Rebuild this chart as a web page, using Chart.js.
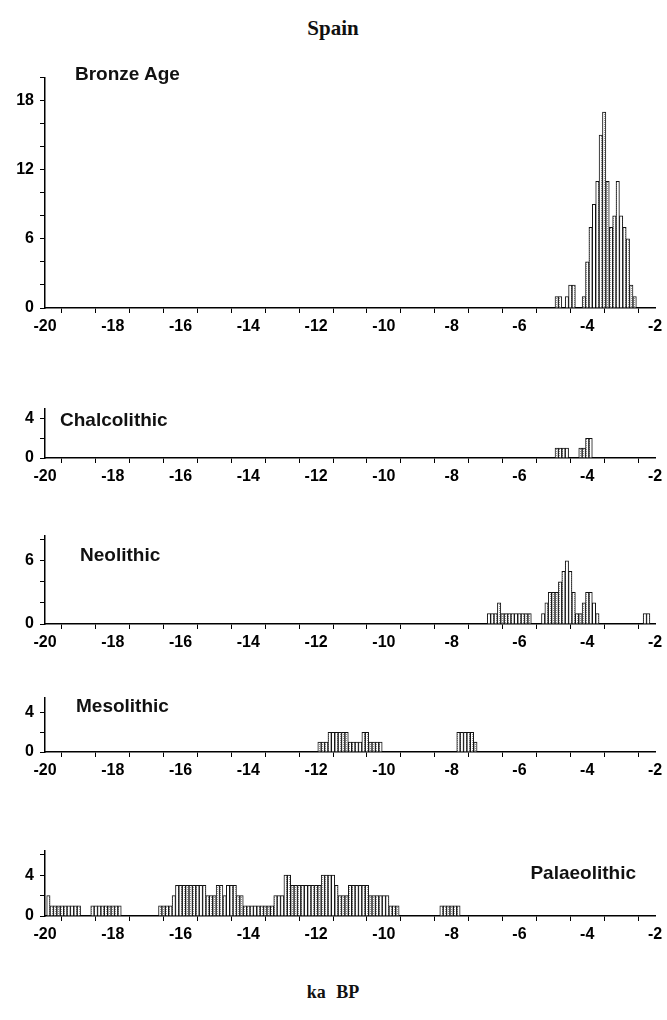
<!DOCTYPE html>
<html>
<head>
<meta charset="utf-8">
<script src="https://cdn.jsdelivr.net/npm/chart.js@4.4.1/dist/chart.umd.min.js"></script>
<style>
  body { margin: 0; background: #fff; width: 667px; height: 1020px; position: relative; overflow: hidden; }
  canvas { position: absolute; left: 0; }
  .lbl { position: absolute; font-family: "Liberation Sans", Arial, sans-serif; font-weight: bold; font-size: 19px; line-height: 1; color: #111; transform: translateY(-50%); white-space: nowrap; }
  .lbl.right { transform: translate(-100%, -50%); }
  .serif { position: absolute; font-family: "Liberation Serif", "Times New Roman", serif; font-weight: bold; color: #111; transform: translate(-50%, -50%); white-space: nowrap; }
</style>
</head>
<body>
<div class="serif" style="left:333px; top:28px; font-size:21px;">Spain</div>
<div class="serif" style="left:333px; top:992px; font-size:18px; word-spacing:6px;">ka BP</div>

<script>
// histogram bins (ka BP, bin centre) and counts
const xTickLabels = [-20, -18, -16, -14, -12, -10, -8, -6, -4, -2];

const bronzeAgeX = [-4.9, -4.8, -4.6, -4.5, -4.4, -4.1, -4.0, -3.9, -3.8, -3.7, -3.6, -3.5, -3.4, -3.3, -3.2, -3.1, -3.0, -2.9, -2.8, -2.7, -2.6];
const bronzeAgeN = [1, 1, 1, 2, 2, 1, 4, 7, 9, 11, 15, 17, 11, 7, 8, 11, 8, 7, 6, 2, 1];
const bronzeAgeYLabels = [0, 6, 12, 18];

const chalcoX = [-4.9, -4.8, -4.7, -4.6, -4.2, -4.1, -4.0, -3.9];
const chalcoN = [1, 1, 1, 1, 1, 1, 2, 2];
const chalcoYLabels = [0, 4];

const neoX = [-6.9, -6.8, -6.7, -6.6, -6.5, -6.4, -6.3, -6.2, -6.1, -6.0, -5.9, -5.8, -5.7,
              -5.3, -5.2, -5.1, -5.0, -4.9, -4.8, -4.7, -4.6, -4.5, -4.4, -4.3, -4.2, -4.1, -4.0, -3.9, -3.8, -3.7,
              -2.3, -2.2];
const neoN = [1, 1, 1, 2, 1, 1, 1, 1, 1, 1, 1, 1, 1,
              1, 2, 3, 3, 3, 4, 5, 6, 5, 3, 1, 1, 2, 3, 3, 2, 1,
              1, 1];
const neoYLabels = [0, 6];

const mesoX = [-11.9, -11.8, -11.7, -11.6, -11.5, -11.4, -11.3, -11.2, -11.1, -11.0, -10.9, -10.8, -10.7, -10.6, -10.5, -10.4, -10.3, -10.2, -10.1,
               -7.8, -7.7, -7.6, -7.5, -7.4, -7.3];
const mesoN = [1, 1, 1, 2, 2, 2, 2, 2, 2, 1, 1, 1, 1, 2, 2, 1, 1, 1, 1,
               2, 2, 2, 2, 2, 1];
const mesoYLabels = [0, 4];

const palaeoX = [-19.9, -19.8, -19.7, -19.6, -19.5, -19.4, -19.3, -19.2, -19.1, -19.0,
                 -18.6, -18.5, -18.4, -18.3, -18.2, -18.1, -18.0, -17.9, -17.8,
                 -16.6, -16.5, -16.4, -16.3, -16.2, -16.1, -16.0, -15.9, -15.8, -15.7, -15.6, -15.5, -15.4, -15.3,
                 -15.2, -15.1, -15.0, -14.9, -14.8, -14.7, -14.6, -14.5, -14.4, -14.3, -14.2,
                 -14.1, -14.0, -13.9, -13.8, -13.7, -13.6, -13.5, -13.4, -13.3,
                 -13.2, -13.1, -13.0, -12.9, -12.8, -12.7, -12.6, -12.5, -12.4, -12.3, -12.2, -12.1, -12.0, -11.9,
                 -11.8, -11.7, -11.6, -11.5, -11.4, -11.3, -11.2, -11.1, -11.0, -10.9, -10.8, -10.7, -10.6, -10.5,
                 -10.4, -10.3, -10.2, -10.1, -10.0, -9.9, -9.8, -9.7, -9.6,
                 -8.3, -8.2, -8.1, -8.0, -7.9, -7.8];
const palaeoN = [2, 1, 1, 1, 1, 1, 1, 1, 1, 1,
                 1, 1, 1, 1, 1, 1, 1, 1, 1,
                 1, 1, 1, 1, 2, 3, 3, 3, 3, 3, 3, 3, 3, 3,
                 2, 2, 2, 3, 3, 2, 3, 3, 3, 2, 2,
                 1, 1, 1, 1, 1, 1, 1, 1, 1,
                 2, 2, 2, 4, 4, 3, 3, 3, 3, 3, 3, 3, 3, 3,
                 4, 4, 4, 4, 3, 2, 2, 2, 3, 3, 3, 3, 3, 3,
                 2, 2, 2, 2, 2, 2, 1, 1, 1,
                 1, 1, 1, 1, 1, 1];
const palaeoYLabels = [0, 4];

// layout of each panel on the page
const panels = [
  { x: bronzeAgeX, n: bronzeAgeN, yMax: 20,  yLabels: bronzeAgeYLabels, base: 308, h: 240, name: 'Bronze Age',   lx: 75,  ly: 73 },
  { x: chalcoX,    n: chalcoN,    yMax: 5,   yLabels: chalcoYLabels,    base: 458, h: 59,  name: 'Chalcolithic', lx: 60,  ly: 419 },
  { x: neoX,       n: neoN,       yMax: 8.4, yLabels: neoYLabels,       base: 624, h: 98,  name: 'Neolithic',    lx: 80,  ly: 554 },
  { x: mesoX,      n: mesoN,      yMax: 5.5, yLabels: mesoYLabels,      base: 752, h: 64,  name: 'Mesolithic',   lx: 76,  ly: 705 },
  { x: palaeoX,    n: palaeoN,    yMax: 6.4, yLabels: palaeoYLabels,    base: 916, h: 75,  name: 'Palaeolithic', lx: 636, ly: 872, right: true }
];

const PAD_TOP = 6, X_AXIS_H = 36, Y_AXIS_W = 45;
const tickFont = { family: '"Liberation Sans", Arial, sans-serif', size: 16, weight: 'bold' };

function hatch(ctx) {
  const c = document.createElement('canvas');
  c.width = 3; c.height = 2;
  const g = c.getContext('2d');
  g.fillStyle = '#ffffff';
  g.fillRect(0, 0, 3, 2);
  g.fillStyle = '#9a9a9a';
  g.fillRect(1, 0, 1, 1);
  return ctx.createPattern(c, 'repeat');
}

panels.forEach(p => {
  const cv = document.createElement('canvas');
  cv.width = 667;
  cv.height = PAD_TOP + p.h + X_AXIS_H;
  cv.style.top = (p.base - p.h - PAD_TOP) + 'px';
  document.body.appendChild(cv);

  const lbl = document.createElement('div');
  lbl.className = p.right ? 'lbl right' : 'lbl';
  lbl.style.left = p.lx + 'px';
  lbl.style.top = p.ly + 'px';
  lbl.textContent = p.name;
  document.body.appendChild(lbl);

  const ctx = cv.getContext('2d');
  new Chart(ctx, {
    type: 'bar',
    data: {
      datasets: [{
        data: p.x.map((v, i) => ({ x: v, y: p.n[i] })),
        backgroundColor: hatch(ctx),
        borderColor: '#111',
        borderWidth: 1,
        borderSkipped: 'start',
        barPercentage: 1,
        categoryPercentage: 1
      }]
    },
    options: {
      responsive: false,
      animation: false,
      devicePixelRatio: 1,
      layout: { padding: { top: PAD_TOP, right: 12, left: 0, bottom: 0 } },
      plugins: { legend: { display: false }, tooltip: { enabled: false } },
      scales: {
        x: {
          type: 'linear',
          min: -20,
          max: -2,
          offset: false,
          afterFit: s => { s.height = X_AXIS_H; },
          grid: { drawOnChartArea: false, drawTicks: true, tickLength: 5, color: '#000', lineWidth: 1 },
          border: { display: true, color: '#000', width: 1.5 },
          ticks: {
            stepSize: 1, autoSkip: false, maxRotation: 0, color: '#000', font: tickFont, padding: 4,
            callback: v => xTickLabels.includes(v) ? String(v) : ''
          }
        },
        y: {
          min: 0,
          max: p.yMax,
          afterFit: s => { s.width = Y_AXIS_W; },
          grid: { drawOnChartArea: false, drawTicks: true, tickLength: 5, color: '#000', lineWidth: 1 },
          border: { display: true, color: '#000', width: 1.5 },
          ticks: {
            stepSize: 2, includeBounds: false, autoSkip: false, color: '#000', font: tickFont, padding: 6,
            callback: v => p.yLabels.includes(v) ? String(v) : ''
          }
        }
      }
    }
  });
});
</script>
</body>
</html>
